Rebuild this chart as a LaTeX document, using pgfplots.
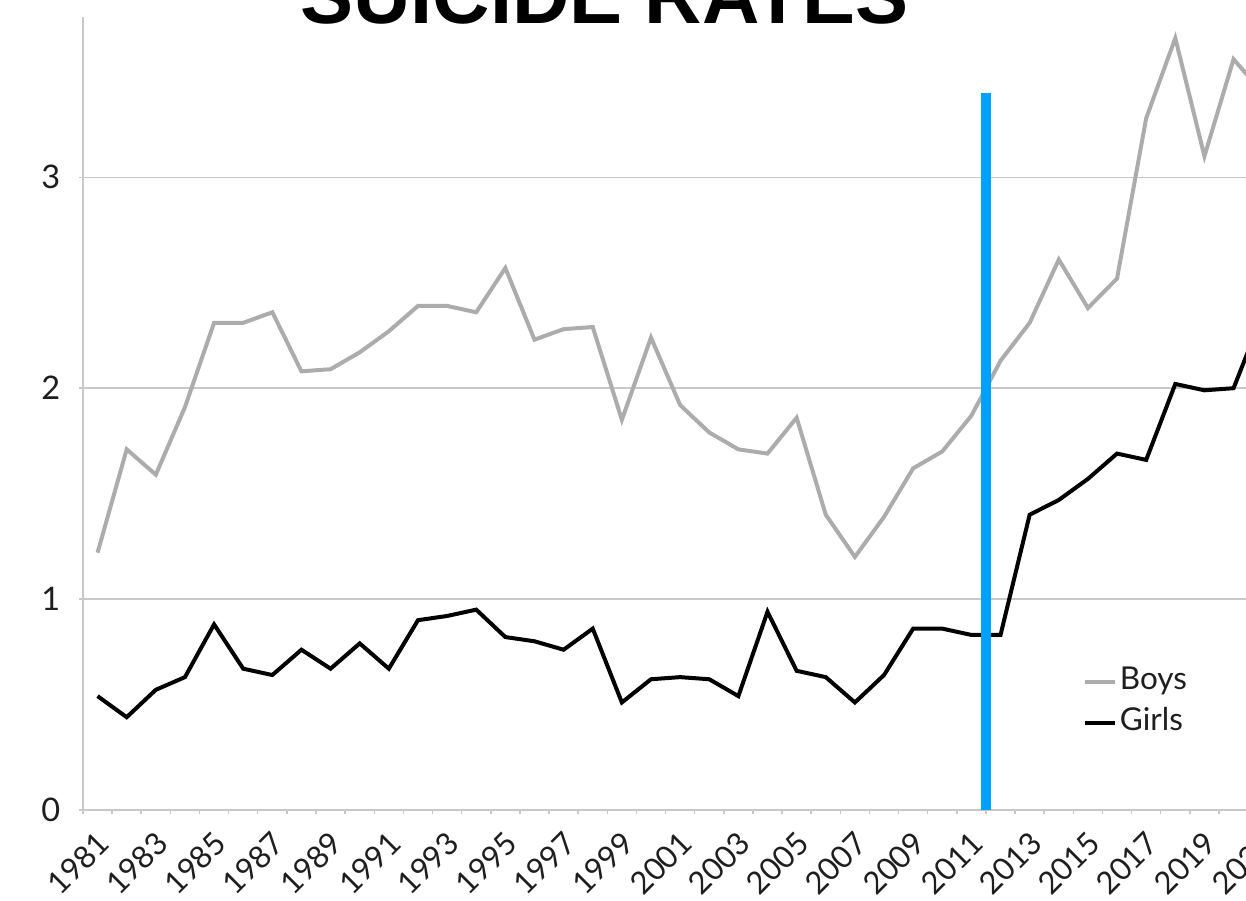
\documentclass[border=0pt]{standalone}
\usepackage{pgfplots}
\pgfplotsset{compat=1.18}
\usepackage{fontspec}
\setmainfont{Lato}
\newfontfamily\titlefont{Liberation Sans}

\definecolor{boysgray}{RGB}{172,172,172}
\definecolor{gridgray}{RGB}{200,200,200}
\definecolor{markblue}{RGB}{0,160,255}
\definecolor{labelblack}{RGB}{30,30,30}

% suicide rates, boys and girls
\pgfplotstableread{
year boys girls
1981 1.22 0.54
1982 1.71 0.44
1983 1.59 0.57
1984 1.91 0.63
1985 2.31 0.88
1986 2.31 0.67
1987 2.36 0.64
1988 2.08 0.76
1989 2.09 0.67
1990 2.17 0.79
1991 2.27 0.67
1992 2.39 0.90
1993 2.39 0.92
1994 2.36 0.95
1995 2.57 0.82
1996 2.23 0.80
1997 2.28 0.76
1998 2.29 0.86
1999 1.85 0.51
2000 2.24 0.62
2001 1.92 0.63
2002 1.79 0.62
2003 1.71 0.54
2004 1.69 0.94
2005 1.86 0.66
2006 1.40 0.63
2007 1.20 0.51
2008 1.39 0.64
2009 1.62 0.86
2010 1.70 0.86
2011 1.87 0.83
2012 2.13 0.83
2013 2.31 1.40
2014 2.61 1.47
2015 2.38 1.57
2016 2.52 1.69
2017 3.28 1.66
2018 3.66 2.02
2019 3.10 1.99
2020 3.56 2.00
2021 3.40 2.35
}\ratesdata

\begin{document}
\begin{tikzpicture}
\useasboundingbox (0,0) rectangle (498.4pt,360pt);
\clip (0,0) rectangle (498.4pt,360pt);
\begin{axis}[
    at={(33.2pt,36pt)},
    anchor=south west,
    scale only axis,
    width=477.7pt,
    height=317.2pt,
    xmin=1980.5, xmax=2021.5,
    ymin=0, ymax=3.76,
    axis x line*=bottom,
    axis y line*=left,
    axis line style={gridgray, line width=0.6pt},
    xtick={1981,1983,...,2021},
    minor xtick={1980.5,1981.5,...,2021.5},
    ytick={0,1,2,3},
    tick align=outside,
    major tick length=1.6pt,
    minor tick length=1.6pt,
    major x tick style={draw=none},
    minor x tick style={gridgray, line width=0.6pt},
    major y tick style={gridgray, line width=0.6pt},
    ymajorgrids,
    grid style={gridgray, line width=0.6pt},
    /pgf/number format/1000 sep={},
    /pgf/number format/assume math mode=true,
    xticklabel style={xshift=5pt, yshift=-7pt, rotate=45, anchor=east, font=\fontsize{12.4}{14}\selectfont, text=labelblack},
    yticklabel style={font=\fontsize{13}{15}\selectfont, text=labelblack, xshift=-4pt},
    legend style={draw=none, fill=none, at={(axis cs:2014.83,0.51)}, anchor=west,
        inner sep=0pt, row sep=2.4pt, font=\fontsize{12.6}{14}\selectfont, text=labelblack,
        nodes={inner sep=1pt, text height=9pt, text depth=3pt}},
    legend cell align=left,
    legend image code/.code={\draw[#1] (0pt,0pt) -- (12pt,0pt);},
]
\addplot[boysgray, line width=1.6pt] table[x=year, y=boys] {\ratesdata};
\addlegendentry{Boys}
\addplot[black, line width=1.6pt] table[x=year, y=girls] {\ratesdata};
\addlegendentry{Girls}
\addplot[markblue, line width=4.1pt, forget plot] coordinates {(2011.5,0) (2011.5,3.40)};
\end{axis}
\node[font=\titlefont\bfseries\fontsize{31.8}{36}\selectfont, anchor=base] at (241.8pt,350.8pt) {SUICIDE RATES};
\end{tikzpicture}
\end{document}
